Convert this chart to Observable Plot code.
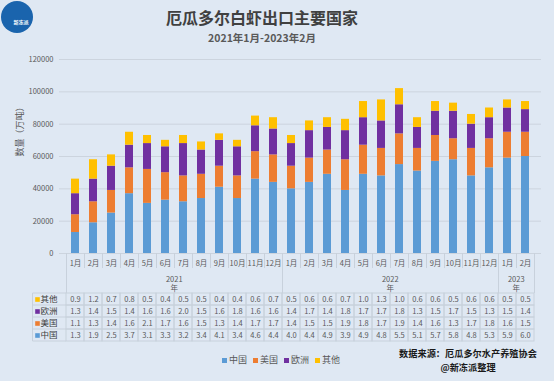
<!DOCTYPE html>
<html><head><meta charset="utf-8">
<script src="https://cdn.jsdelivr.net/npm/d3@7"></script>
<script src="https://cdn.jsdelivr.net/npm/@observablehq/plot@0.6"></script>
<style>
body{margin:0;background:#dfe8f3;}
#root{position:relative;width:554px;height:381px;background:#dfe8f3;font-family:"Noto Sans CJK SC","Noto Sans",sans-serif;overflow:hidden;}
#logo{position:absolute;left:1px;top:1px;width:32px;height:32px;border-radius:50%;background:#1a64ad;color:#fff;font-size:5px;font-weight:bold;display:flex;align-items:flex-end;justify-content:center;box-sizing:border-box;}
#logo span{margin-bottom:8px;margin-left:8px;}
#title{position:absolute;left:0;width:524px;top:6px;text-align:center;font-size:16px;font-weight:bold;color:#404040;line-height:22px;}
#subtitle{position:absolute;left:0;width:524px;top:31px;text-align:center;font-size:10.5px;font-weight:bold;color:#595959;line-height:14px;}
#c1{position:absolute;left:0;top:50px;}
#c2{position:absolute;left:0;top:253px;}
#legend{position:absolute;left:222px;top:354px;display:flex;gap:6px;font-size:9px;color:#595959;line-height:12px;}
#legend .it{display:flex;align-items:center;gap:2px;}
#legend .sw{width:5px;height:5px;display:inline-block;}
#source{position:absolute;left:388px;width:160px;top:347px;text-align:center;font-size:9.2px;font-weight:bold;color:#1a1a1a;line-height:13.5px;}
</style></head><body>
<div id="root">
  <div id="logo"><span>新冻派</span></div>
  <div id="title">厄瓜多尔白虾出口主要国家</div>
  <div id="subtitle">2021年1月-2023年2月</div>
  <div id="c1"></div>
  <div id="c2"></div>
  <div id="legend"></div>
  <div id="source"><div>数据来源：厄瓜多尔水产养殖协会</div><div>@新冻派整理</div></div>
</div>
<script>
const years = ["2021", "2022", "2023"];
const monthCounts = [12, 12, 2];
const monthLabels = ["1月","2月","3月","4月","5月","6月","7月","8月","9月","10月","11月","12月"];
const series = ["中国", "美国", "欧洲", "其他"];
const colors = ["#5b9bd5", "#ed7d31", "#7030a0", "#ffc000"];
const tableRows = ["其他", "欧洲", "美国", "中国"];
// values in the table (万吨 ×1)
const china  = [1.3,1.9,2.5,3.7,3.1,3.3,3.2,3.4,4.1,3.4,4.6,4.4, 4.0,4.4,4.9,3.9,4.9,4.8,5.5,5.1,5.7,5.8,4.8,5.3, 5.9,6.0];
const usa    = [1.1,1.3,1.4,1.6,2.1,1.7,1.6,1.5,1.3,1.4,1.7,1.7, 1.4,1.5,1.5,1.9,1.8,1.7,1.9,1.4,1.6,1.3,1.7,1.8, 1.6,1.5];
const europe = [1.3,1.4,1.5,1.4,1.6,1.6,2.0,1.5,1.6,1.8,1.6,1.6, 1.4,1.7,1.4,1.8,1.7,1.7,1.8,1.3,1.5,1.7,1.5,1.3, 1.5,1.4];
const other  = [0.9,1.2,0.7,0.8,0.5,0.4,0.5,0.5,0.4,0.4,0.6,0.7, 0.5,0.6,0.6,0.7,1.0,1.3,1.0,0.6,0.6,0.5,0.6,0.6, 0.5,0.5];
const yTicks = [0, 20000, 40000, 60000, 80000, 100000, 120000];
const yLabel = "数量（万吨）";

const values = {"中国": china, "美国": usa, "欧洲": europe, "其他": other};
const colorOf = Object.fromEntries(series.map((s, i) => [s, colors[i]]));

const months = [];
years.forEach((y, yi) => {
  for (let m = 0; m < monthCounts[yi]; m++) months.push({key: `${y}-${m + 1}`, year: y, label: monthLabels[m]});
});
const keys = months.map(d => d.key);
const long = [];
months.forEach((mo, i) => series.forEach(s => long.push({key: mo.key, series: s, value: values[s][i]})));

const yearLabels = years.map((y, yi) => {
  const ms = months.filter(d => d.year === y);
  return {year: y, mid: ms[Math.floor(ms.length / 2)].key};
});

const font = '"Noto Sans CJK SC","Noto Sans",sans-serif';
const W = 554, ML = 59, MR = 13;

const plot1 = Plot.plot({
  width: W, height: 204, marginTop: 9, marginBottom: 1, marginLeft: ML, marginRight: MR,
  style: {background: "transparent", fontFamily: font, color: "#595959", overflow: "visible"},
  x: {domain: keys, padding: 0.57, axis: null},
  y: {domain: [0, 120000], axis: null},
  color: {domain: series, range: colors},
  marks: [
    Plot.ruleY(yTicks, {stroke: "#ccd4de", strokeWidth: 1}),
    Plot.barY(long, {x: "key", y: d => d.value * 10000, fill: "series", order: series}),
    Plot.axisY({ticks: yTicks, tickSize: 0, tickPadding: 6, tickFormat: d => String(d), label: null, fontSize: 7.5, fill: "#595959"}),
    Plot.text([yLabel], {text: d => d, frameAnchor: "left", dx: -39, rotate: -90, fontSize: 9, fill: "#595959"})
  ]
});
document.getElementById("c1").append(plot1);

const tableData = long;
const step = (W - ML - MR) / keys.length;
const plot2 = Plot.plot({
  width: W, height: 90, marginTop: 39, marginBottom: 1, marginLeft: ML, marginRight: MR,
  style: {background: "transparent", fontFamily: font, color: "#595959", overflow: "visible"},
  x: {domain: keys, padding: 0, axis: null},
  y: {domain: tableRows, padding: 0, axis: null},
  color: {type: "identity"},
  marks: [
    Plot.cell(tableData, {x: "key", y: "series", stroke: "#c8d1dc", fill: "none"}),
    Plot.text(tableData, {x: "key", y: "series", text: d => d.value.toFixed(1), fill: "#595959", fontSize: 7.5}),
    Plot.text(months, {x: "key", text: "label", frameAnchor: "top", dy: -32, fontSize: 7.5, fill: "#595959"}),
    Plot.text(yearLabels, {x: "mid", text: "year", frameAnchor: "top", dy: -16, dx: -step / 2, fontSize: 7.5, fill: "#595959"}),
    Plot.text(yearLabels, {x: "mid", text: () => "年", frameAnchor: "top", dy: -6.5, dx: -step / 2, fontSize: 7.5, fill: "#595959"}),
    Plot.text(tableRows, {y: d => d, text: d => d, frameAnchor: "left", dx: -2, textAnchor: "end", fontSize: 8.5, fill: "#404040"}),
    Plot.dot(tableRows, {y: d => d, frameAnchor: "left", dx: -22, symbol: "square", r: 2.6, fill: d => colorOf[d], stroke: "none"})
  ]
});
document.getElementById("c2").append(plot2);

// header grid lines and label column borders, positioned with the plot's scales
(function () {
  const svg = d3.select(plot2);
  const sx = plot2.scale("x"), sy = plot2.scale("y");
  const g = svg.append("g").attr("stroke", "#c8d1dc").attr("stroke-width", 1).attr("fill", "none");
  const x0 = sx.apply(keys[0]);
  const yTop = sy.apply(tableRows[0]);
  const yBot = sy.apply(tableRows[tableRows.length - 1]) + sy.bandwidth;
  const yearStarts = new Set();
  let acc = 0;
  monthCounts.forEach(c => { yearStarts.add(acc); acc += c; });
  yearStarts.add(acc);
  for (let i = 0; i <= keys.length; i++) {
    const x = Math.round(x0 + i * sx.step) + 0.5;
    g.append("line").attr("x1", x).attr("x2", x).attr("y1", 0).attr("y2", yearStarts.has(i) ? yTop : 15);
  }
  const xl = 32.5;
  g.append("line").attr("x1", xl).attr("x2", xl).attr("y1", yTop).attr("y2", yBot);
  tableRows.forEach((r, i) => {
    const y = sy.apply(r);
    g.append("line").attr("x1", xl).attr("x2", x0).attr("y1", y).attr("y2", y);
  });
  g.append("line").attr("x1", xl).attr("x2", x0).attr("y1", yBot).attr("y2", yBot);
})();

const legend = document.getElementById("legend");
series.forEach((s, i) => {
  const it = document.createElement("div");
  it.className = "it";
  it.innerHTML = `<span class="sw" style="background:${colors[i]}"></span><span>${s}</span>`;
  legend.append(it);
});
</script>
</body></html>
